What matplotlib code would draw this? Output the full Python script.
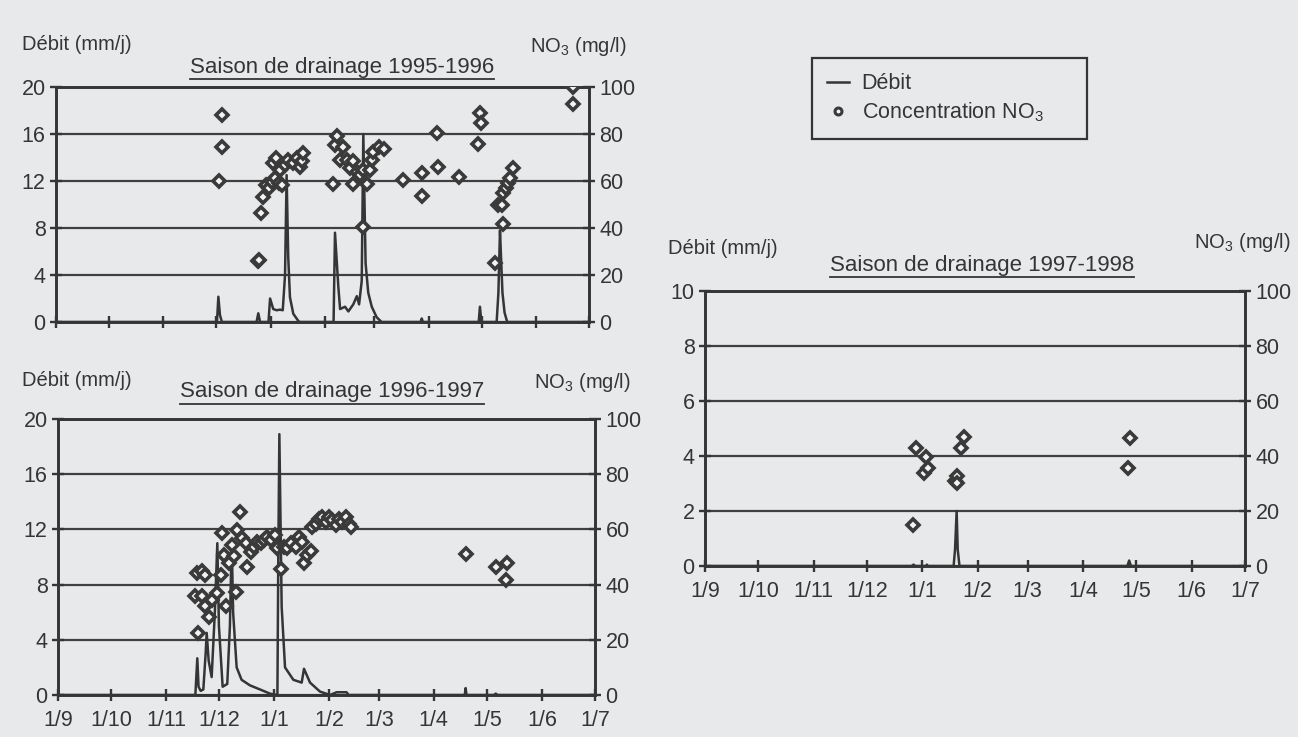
import matplotlib
matplotlib.use("Agg")
import matplotlib.pyplot as plt
from matplotlib.lines import Line2D

# days counted from 1 September of each drainage season
month_days = [0, 30, 61, 91, 122, 153, 181, 212, 242, 273, 303]
month_labels = ["1/9", "1/10", "1/11", "1/12", "1/1", "1/2", "1/3", "1/4", "1/5", "1/6", "1/7"]

# ---- 1995-1996 ----
q95_day = [0, 91.5, 92.3, 93.2, 94.3, 114.0, 115.0, 116.0, 120.8, 121.7, 123.5, 125.4, 127.3, 128.9,
           130.2, 131.1, 132.0, 133.0, 134.9, 137.7, 138.5, 157.8, 158.6, 160.5, 161.5, 164.3, 166.2,
           169.0, 171.0, 172.3, 173.8, 174.7, 176.0, 177.5, 179.5, 182.3, 185.1, 207.3, 207.9, 208.6,
           240.3, 241.0, 241.8, 250.5, 251.5, 252.4, 253.0, 253.8, 255.0, 256.5, 303]
q95_val = [0, 0, 2.15, 0.6, 0, 0, 0.74, 0, 0, 2.0, 1.1, 1.0, 1.05, 1.0,
           4.0, 12.5, 5.6, 2.1, 0.7, 0.1, 0, 0, 7.6, 3.0, 1.1, 1.3, 0.9,
           1.5, 2.2, 1.5, 3.5, 16.0, 5.0, 2.5, 1.3, 0.4, 0, 0, 0.3, 0,
           0, 1.3, 0, 0, 2.5, 7.8, 5.5, 2.5, 0.8, 0, 0]
n95_day = [94.2, 94.6, 92.9, 114.7, 115.3, 116.5, 117.5, 119.4, 121.3, 122.6, 124.5, 123.5, 125.0,
           126.9, 127.3, 128.2, 130.2, 132.0, 134.9, 136.8, 138.7, 139.6, 140.6, 157.7, 158.6, 159.5,
           161.5, 163.3, 165.3, 167.2, 169.1, 169.1, 171.0, 172.9, 174.4, 174.8, 176.7, 178.6, 179.6,
           180.2, 183.4, 186.3, 197.4, 207.9, 208.3, 216.4, 217.3, 229.3, 239.7, 241.0, 241.6, 249.6,
           251.1, 253.4, 253.9, 254.3, 255.8, 257.1, 258.0, 260.0, 294.1, 293.9]
n95_val = [88.1, 74.3, 60.1, 26.1, 26.5, 46.2, 53.1, 58.3, 56.9, 59.7, 61.1, 67.5, 69.6,
           59.3, 64.7, 58.3, 66.8, 69.0, 67.5, 69.6, 66.1, 68.3, 71.8, 58.9, 75.3, 79.1,
           68.9, 74.6, 68.9, 65.4, 68.3, 58.9, 64.0, 62.6, 40.6, 64.7, 58.9, 64.7, 68.9,
           72.5, 74.6, 73.5, 60.4, 63.6, 53.6, 80.3, 65.8, 61.6, 75.7, 89.1, 84.8, 25.0,
           49.8, 49.8, 41.9, 54.8, 57.0, 59.1, 61.2, 65.7, 100.0, 92.6]

# ---- 1996-1997 ----
q96_day = [0, 77.5, 78.6, 79.3, 80.5, 82.0, 83.3, 83.9, 85.0, 86.7, 88.5, 89.9, 90.8, 92.9, 95.5,
           97.0, 98.0, 98.8, 100.8, 103.6, 108.3, 114.0, 119.6, 123.8, 124.3, 124.9, 126.2, 128.1,
           132.8, 137.5, 138.8, 142.2, 147.8, 153.5, 157.2, 162.8, 164.0, 229.5, 230.0, 230.5,
           246.0, 247.0, 248.0, 303]
q96_val = [0, 0, 2.66, 0.6, 0.3, 0.4, 3.0, 4.5, 2.5, 1.3, 6.0, 11.0, 5.0, 0.6, 0.8,
           5.0, 11.3, 6.0, 2.0, 1.1, 0.7, 0.4, 0.1, 0, 10.0, 18.9, 6.4, 2.0,
           1.1, 0.9, 1.9, 0.9, 0.25, 0, 0.2, 0.2, 0, 0, 0.5, 0,
           0, 0.1, 0, 0]
n96_day = [77.3, 78.2, 79.2, 81.1, 81.1, 83.0, 82.9, 85.2, 87.1, 89.9, 91.8, 92.8, 93.7, 94.7,
           96.5, 98.4, 99.3, 100.3, 101.2, 102.7, 104.0, 105.9, 106.9, 108.7, 110.6, 112.5, 114.4,
           116.2, 118.1, 120.0, 122.3, 123.8, 125.7, 127.6, 129.4, 131.3, 134.1, 136.0, 137.9,
           138.8, 140.7, 142.6, 143.5, 145.4, 147.3, 149.2, 151.0, 152.9, 154.8, 156.7, 158.6,
           160.4, 162.3, 164.2, 165.1, 230.0, 247.0, 252.6, 253.5]
n96_val = [35.7, 44.2, 22.4, 35.7, 45.1, 43.5, 32.1, 28.4, 34.4, 36.8, 43.5, 58.6, 50.8, 32.1,
           47.8, 54.4, 50.2, 37.5, 59.8, 66.2, 56.8, 54.9, 46.5, 51.9, 53.8, 55.6, 54.9,
           56.1, 57.3, 56.1, 57.9, 53.1, 45.8, 53.7, 53.1, 54.9, 53.7, 57.3, 55.5,
           47.8, 50.8, 52.0, 60.7, 62.1, 63.9, 64.5, 62.7, 64.5, 63.3, 61.5, 63.9,
           62.7, 64.5, 62.1, 60.9, 51.2, 46.2, 41.5, 47.8]

# ---- 1997-1998 ----
q97_day = [0, 116.0, 117.0, 118.0, 124.0, 124.5, 125.0, 139.5, 140.3, 141.2, 141.8, 142.8,
           237.0, 238.0, 239.0, 303]
q97_val = [0, 0, 0.05, 0, 0, 0.05, 0, 0, 0.6, 2.0, 0.6, 0, 0, 0.2, 0, 0]
n97_day = [116.6, 118.4, 123.0, 124.2, 125.4, 140.5, 141.2, 141.6, 143.5, 145.1, 237.3, 238.7]
n97_val = [14.8, 43.0, 33.9, 39.8, 35.8, 30.9, 32.7, 30.3, 43.0, 47.0, 35.8, 46.7]

BG = "#e7e9ea"
INK = "#353535"
W, H = 1298, 737

plt.rcParams["font.family"] = ["Liberation Sans", "DejaVu Sans"]
plt.rcParams["mathtext.default"] = "regular"
plt.rcParams["text.color"] = INK

fig = plt.figure(figsize=(W / 100, H / 100), dpi=100, facecolor=BG)


def box(l, t, r, b):
    return [l / W, 1 - b / H, (r - l) / W, (b - t) / H]


def panel(rect, qd, qv, nd, nv, ymax, ystep, xlabels=True):
    ax = fig.add_axes(rect)
    ax.set_facecolor(BG)
    ax2 = ax.twinx()
    ax.plot(qd, qv, color=INK, lw=1.8, zorder=3)
    ax2.plot(nd, nv, ls="none", marker="D", ms=6, mew=2.6, mec="#3a3a3a", mfc="#f4f4f4", zorder=4)
    ax.set_xlim(0, 303)
    ax.set_ylim(0, ymax)
    ax2.set_ylim(0, 100)
    ax.set_yticks(range(0, ymax + 1, ystep))
    ax2.set_yticks(range(0, 101, 20))
    ax.set_xticks(month_days)
    ax.set_xticklabels(month_labels if xlabels else [])
    ax.yaxis.grid(True, color="#404040", lw=1.6)
    ax.set_axisbelow(True)
    for a in (ax, ax2):
        for s in a.spines.values():
            s.set_color(INK)
            s.set_linewidth(1.9)
        a.tick_params(direction="inout", length=9, width=1.7, color=INK,
                      labelsize=15.5, labelcolor=INK, pad=3)
    ax.tick_params(axis="x", pad=6)
    return ax, ax2


panel(box(56, 87, 589, 322), q95_day, q95_val, n95_day, n95_val, 20, 4, xlabels=False)
panel(box(58, 419, 595, 695), q96_day, q96_val, n96_day, n96_val, 20, 4)
panel(box(705, 291, 1245, 566), q97_day, q97_val, n97_day, n97_val, 10, 2)


# axis captions and titles (pixel positions of the scan)
def ftext(x, y, s, ha="left", size=14.5):
    return fig.text(x / W, 1 - y / H, s, ha=ha, va="center", fontsize=size)


titles = []
ftext(22, 45, "Débit (mm/j)")
ftext(626, 47, "NO$_3$ (mg/l)", ha="right")
titles.append(ftext(342, 67, "Saison de drainage 1995-1996", ha="center", size=16))
ftext(22, 380, "Débit (mm/j)")
ftext(630, 383, "NO$_3$ (mg/l)", ha="right")
titles.append(ftext(332, 392, "Saison de drainage 1996-1997", ha="center", size=16))
ftext(668, 248, "Débit (mm/j)")
ftext(1290, 243, "NO$_3$ (mg/l)", ha="right")
titles.append(ftext(982, 265, "Saison de drainage 1997-1998", ha="center", size=16))

handles = [Line2D([], [], color=INK, lw=1.8),
           Line2D([], [], ls="none", marker="o", ms=5, mew=2.2, mec="#3a3a3a", mfc="#f4f4f4")]
leg = fig.legend(handles, ["Débit", "Concentration NO$_3$"], loc="upper left",
                 bbox_to_anchor=(812 / W, 1 - 140 / H, 275 / W, 82 / H), mode="expand",
                 borderaxespad=0, fontsize=15.5, frameon=True,
                 fancybox=False, edgecolor=INK, facecolor=BG, framealpha=1,
                 handlelength=1.0, handletextpad=0.6, borderpad=0.7, labelspacing=0.3)
leg.get_frame().set_linewidth(1.6)

# underline the titles
fig.canvas.draw()
r = fig.canvas.get_renderer()
for t in titles:
    bb = t.get_window_extent(r)
    y = (bb.y0 - 1) / H
    fig.add_artist(Line2D([bb.x0 / W, bb.x1 / W], [y, y], color=INK, lw=1.3))

fig.savefig("out.png", dpi=100, facecolor=BG)
